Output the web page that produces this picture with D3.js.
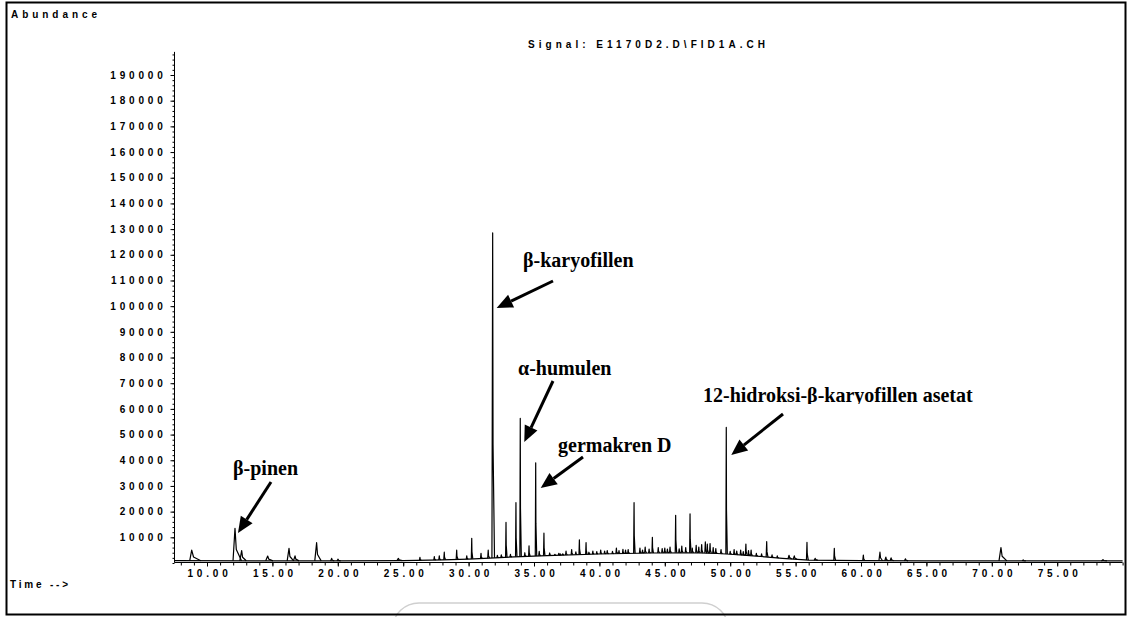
<!DOCTYPE html>
<html>
<head>
<meta charset="utf-8">
<script src="https://cdn.jsdelivr.net/npm/d3@7/dist/d3.min.js"></script>
<style>
    body { margin: 0; background: #fff; }
    svg { display: block; }
    .mono { font-family: "Liberation Sans", Arial, sans-serif; font-weight: bold; font-size: 10px; letter-spacing: 3.8px; fill: #000; }
    .peak-label { font-family: "Liberation Serif", "Times New Roman", serif; font-weight: bold; font-size: 20px; fill: #000; }
</style>
</head>
<body>
<svg id="svg" width="1129" height="617"></svg>
<script>
// tick labels
var yTicks = [10000, 20000, 30000, 40000, 50000, 60000, 70000, 80000, 90000, 100000,
    110000, 120000, 130000, 140000, 150000, 160000, 170000, 180000, 190000];
var xTicks = [10, 15, 20, 25, 30, 35, 40, 45, 50, 55, 60, 65, 70, 75];

// baseline drift of the signal (time in min, abundance)
var baseTimes = [7.5, 20, 25, 28, 30, 32, 34, 36, 40, 44, 47, 49, 50, 52, 54, 56, 60, 65, 70, 80];
var baseLevels = [900, 800, 900, 1200, 1500, 2000, 2500, 2900, 3500, 3900, 4000, 3700, 3400, 2700, 1800, 1100, 900, 800, 800, 800];

// peaks: retention time, apex abundance, tail length (min)
var peakTimes = [8.83, 12.14, 12.65, 14.64, 16.27, 16.73, 18.38, 19.53, 20.02, 24.63,
    26.28, 27.38, 27.76, 28.14, 29.09, 29.86, 30.24, 30.95, 31.5, 31.84,
    32.2, 32.5, 32.86, 33.2, 33.62, 33.95, 34.3, 34.62, 35.13, 35.4,
    35.76, 36.2, 36.6, 36.9, 37.0, 37.2, 37.45, 37.88, 38.2, 38.47,
    38.98, 39.2, 39.5, 39.8, 40.1, 40.4, 40.6, 41.0, 41.3, 41.5,
    41.8, 42.0, 42.2, 42.65, 43.1, 43.3, 43.5, 43.8, 44.05, 44.5,
    44.8, 45.0, 45.2, 45.4, 45.83, 46.1, 46.3, 46.6, 46.93, 47.1,
    47.4, 47.6, 47.82, 48.1, 48.25, 48.46, 48.7, 48.9, 49.3, 49.7,
    50.0, 50.3, 50.5, 50.8, 51.0, 51.2, 51.4, 51.6, 52.0, 52.4,
    52.79, 53.2, 53.6, 54.5, 54.9, 55.87, 56.5, 57.96, 60.18, 61.45,
    61.9, 62.3, 63.4, 70.7, 72.4, 78.5];
var peakHeights = [5000, 13500, 4800, 2700, 5700, 2800, 7900, 1800, 1500, 1800,
    2200, 2500, 2800, 4200, 5000, 2800, 9600, 3800, 5000, 128500,
    3000, 3200, 15800, 3400, 23500, 56300, 4000, 6700, 39000, 4500,
    11600, 3900, 3400, 3800, 3600, 3600, 4600, 5200, 4300, 9000,
    7900, 4200, 4600, 4400, 5000, 4600, 4800, 4500, 5800, 4800,
    5300, 5000, 5200, 23500, 5800, 5000, 6200, 5400, 10000, 6000,
    5600, 5800, 5400, 6200, 18600, 5500, 6600, 6000, 19100, 5800,
    6900, 6200, 7200, 8200, 7400, 7600, 6000, 5600, 5200, 52800,
    4500, 5200, 4600, 5000, 4400, 7400, 4800, 5000, 3800, 3600,
    8300, 3200, 2800, 3000, 2800, 8000, 1800, 5700, 3100, 4200,
    2300, 2000, 1600, 6000, 1200, 1300];
var peakTails = [0.7, 0.5, 0.35, 0.4, 0.35, 0.3, 0.35, 0.2, 0.2, 0.3,
    0.1, 0.1, 0.1, 0.1, 0.1, 0.1, 0.08, 0.1, 0.1, 0.14,
    0.1, 0.1, 0.08, 0.1, 0.08, 0.08, 0.1, 0.08, 0.08, 0.1,
    0.08, 0.1, 0.1, 0.1, 0.1, 0.1, 0.1, 0.1, 0.1, 0.08,
    0.08, 0.1, 0.1, 0.1, 0.1, 0.1, 0.1, 0.1, 0.1, 0.1,
    0.1, 0.1, 0.1, 0.08, 0.1, 0.1, 0.1, 0.1, 0.08, 0.1,
    0.1, 0.1, 0.1, 0.1, 0.08, 0.1, 0.1, 0.1, 0.08, 0.1,
    0.1, 0.1, 0.1, 0.1, 0.1, 0.1, 0.1, 0.1, 0.1, 0.08,
    0.1, 0.1, 0.1, 0.1, 0.1, 0.1, 0.1, 0.1, 0.1, 0.1,
    0.1, 0.1, 0.1, 0.2, 0.2, 0.1, 0.2, 0.1, 0.12, 0.2,
    0.2, 0.2, 0.2, 0.45, 0.2, 0.3];

// identified compounds and the peak each one points at
var compoundNames = ["β-pinen", "β-karyofillen", "α-humulen", "germakren D", "12-hidroksi-β-karyofillen asetat"];
var compoundTimes = [12.14, 31.84, 33.95, 35.13, 49.7];

var svg = d3.select("#svg");

var x = d3.scaleLinear().domain([7.5, 80]).range([174.3, 1122.6]);
var y = d3.scaleLinear().domain([0, 190000]).range([563, 75]);
var base = d3.scaleLinear().domain(baseTimes).range(baseLevels);
var axisY = 562.5;

// light overlay box at the bottom of the screenshot
svg.append("rect")
    .attr("x", 393).attr("y", 603)
    .attr("width", 335).attr("height", 50)
    .attr("rx", 26)
    .attr("fill", "none")
    .attr("stroke", "#cfcfcf")
    .attr("stroke-width", 1.5);

// frame
svg.append("rect")
    .attr("x", 6.5).attr("y", 2.5)
    .attr("width", 1119).attr("height", 612)
    .attr("fill", "none")
    .attr("stroke", "#000")
    .attr("stroke-width", 2);

// header texts
svg.append("text").attr("class", "mono")
    .attr("x", 11).attr("y", 18)
    .attr("textLength", 86).attr("lengthAdjust", "spacing")
    .style("letter-spacing", "0px")
    .text("Abundance");

svg.append("text").attr("class", "mono")
    .attr("x", 528).attr("y", 48)
    .attr("textLength", 237).attr("lengthAdjust", "spacing")
    .style("letter-spacing", "0px")
    .text("Signal: E1170D2.D\\FID1A.CH");

svg.append("text").attr("class", "mono")
    .attr("x", 10).attr("y", 588)
    .attr("textLength", 58).attr("lengthAdjust", "spacing")
    .style("letter-spacing", "0px")
    .text("Time -->");

// y axis
var yFull = y.copy().domain([0, 199000]).range([y(0), y(199000)]);
svg.append("line")
    .attr("x1", 174.5).attr("x2", 174.5)
    .attr("y1", yFull(199000)).attr("y2", axisY)
    .attr("stroke", "#000");

var yMinor = svg.append("g")
    .attr("transform", "translate(174.5,0)")
    .call(d3.axisLeft(yFull).tickValues(yFull.ticks(100)).tickSize(2).tickFormat(""));
yMinor.select(".domain").remove();

var yAxis = svg.append("g")
    .attr("transform", "translate(174.5,0)")
    .call(d3.axisLeft(y).tickValues(yTicks).tickSize(4).tickPadding(4).tickFormat(d3.format("d")));
yAxis.select(".domain").remove();
yAxis.selectAll("text").attr("class", "mono").attr("fill", null);

// x axis
svg.append("line")
    .attr("x1", x(7.5)).attr("x2", x(80))
    .attr("y1", axisY).attr("y2", axisY)
    .attr("stroke", "#000");

var xMinor = svg.append("g")
    .attr("transform", "translate(0," + axisY + ")")
    .call(d3.axisBottom(x).tickValues(x.ticks(80)).tickSize(3).tickFormat(""));
xMinor.select(".domain").remove();

var xAxis = svg.append("g")
    .attr("transform", "translate(0," + axisY + ")")
    .call(d3.axisBottom(x).tickValues(xTicks).tickSize(4).tickPadding(3).tickFormat(d3.format(".2f")));
xAxis.select(".domain").remove();
xAxis.selectAll("text").attr("class", "mono").attr("fill", null).attr("dx", 2);

svg.selectAll(".tick line").attr("stroke", "#000");

// signal: baseline drift plus one spike per peak
var line = d3.line()
    .x(function(d) { return x(d[0]); })
    .y(function(d) { return y(d[1]); });

svg.append("path")
    .datum(baseTimes.map(function(t, i) { return [t, baseLevels[i]]; }))
    .attr("d", line)
    .attr("fill", "none")
    .attr("stroke", "#000")
    .attr("stroke-width", 1.2);

var peaks = peakTimes.map(function(t, i) {
    return { t: t, h: peakHeights[i], tail: peakTails[i] };
});

svg.selectAll("path.peak")
    .data(peaks)
    .enter()
    .append("path")
    .attr("class", "peak")
    .attr("d", function(d) {
        var lead = Math.min(0.15, d.tail * 0.4);
        var b = base(d.t);
        return line([
            [d.t - lead, base(d.t - lead)],
            [d.t, d.h],
            [d.t + d.tail * 0.2, b + (d.h - b) * 0.35],
            [d.t + d.tail, base(d.t + d.tail)]
        ]);
    })
    .attr("fill", "none")
    .attr("stroke", "#000")
    .attr("stroke-width", 1.2)
    .attr("stroke-linejoin", "round");

// annotations: text anchor, arrow tail, arrow tip (offset from the peak)
var notes = [
    { tx: 233, ty: 475, x1: 271, y1: 482, dx: 3, y2: 533 },
    { tx: 523, ty: 267, x1: 553, y1: 281, dx: 4, y2: 308 },
    { tx: 518, ty: 375, x1: 553, y1: 381, dx: 4, y2: 442 },
    { tx: 558, ty: 452, x1: 583, y1: 457, dx: 5, y2: 488 },
    { tx: 703, ty: 402, x1: 783, y1: 414, dx: 5, y2: 455 }
];

svg.append("clipPath").attr("id", "cut-desc")
    .append("rect")
    .attr("x", 690).attr("y", 370).attr("width", 320).attr("height", 34);

var drawArrow = function(x1, y1, x2, y2) {
    var a = Math.atan2(y2 - y1, x2 - x1);
    var len = 16, half = 7;
    var bx = x2 - len * Math.cos(a), by = y2 - len * Math.sin(a);
    svg.append("line")
        .attr("x1", x1).attr("y1", y1)
        .attr("x2", bx).attr("y2", by)
        .attr("stroke", "#000")
        .attr("stroke-width", 3);
    svg.append("polygon")
        .attr("points", [
            [x2, y2],
            [bx - half * Math.sin(a), by + half * Math.cos(a)],
            [bx + half * Math.sin(a), by - half * Math.cos(a)]
        ].join(" "))
        .attr("fill", "#000");
};

compoundNames.forEach(function(name, i) {
    var n = notes[i];
    var t = svg.append("text")
        .attr("class", "peak-label")
        .attr("x", n.tx).attr("y", n.ty)
        .text(name);
    if (i == 4) t.attr("clip-path", "url(#cut-desc)");
    drawArrow(n.x1, n.y1, x(compoundTimes[i]) + n.dx, n.y2);
});
</script>
</body>
</html>
